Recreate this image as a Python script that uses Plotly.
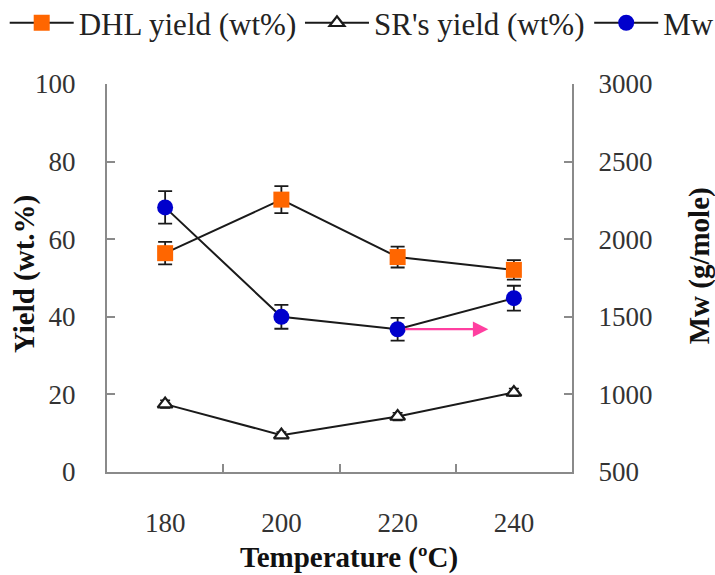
import plotly.graph_objects as go

temps = ["180", "200", "220", "240"]
dhl_yield = [56.4, 70.2, 55.4, 52.1]
dhl_err = [2.9, 3.5, 2.7, 2.5]
sr_yield = [17.5, 9.5, 14.3, 20.5]
sr_err = [1.0, 0.8, 1.0, 1.0]
mw = [2205, 1500, 1420, 1620]
mw_err = [105, 77, 73, 80]

FONT = "Liberation Serif"
LINE = "#1a1a1a"
AXC = "#8a8a8a"

fig = go.Figure()
fig.add_trace(go.Scatter(
    x=temps, y=dhl_yield, name="DHL yield (wt%)", mode="lines+markers",
    line=dict(color=LINE, width=2), legend="legend",
    marker=dict(symbol="square", size=16, color="#FF6600"),
    error_y=dict(type="data", array=dhl_err, color=LINE, thickness=1.8, width=7),
))
fig.add_trace(go.Scatter(
    x=temps, y=sr_yield, name="SR's yield (wt%)", mode="lines+markers",
    line=dict(color=LINE, width=2), legend="legend2",
    marker=dict(symbol="triangle-up", size=13, color="white", line=dict(color=LINE, width=2.2)),
    error_y=dict(type="data", array=sr_err, color=LINE, thickness=1.5, width=5),
))
fig.add_trace(go.Scatter(
    x=temps, y=mw, name="Mw", mode="lines+markers", yaxis="y2",
    line=dict(color=LINE, width=2), legend="legend3",
    marker=dict(symbol="circle", size=16, color="#0000CC"),
    error_y=dict(type="data", array=mw_err, color=LINE, thickness=1.8, width=7),
))

fig.add_annotation(
    x=2.78, y=mw[2], xref="x", yref="y2",
    ax=2.05, ay=mw[2], axref="x", ayref="y2",
    text="", showarrow=True, arrowhead=2, arrowsize=1.4, arrowwidth=2.2,
    arrowcolor="#FF3FA0",
)

titlefont = dict(family=FONT, size=29, color="#111")
fig.add_annotation(text="<b>Yield (wt.%)</b>", xref="paper", yref="paper",
                   x=-0.1785, y=0.51, xanchor="center", yanchor="middle",
                   textangle=-90, showarrow=False, font=titlefont)
fig.add_annotation(text="<b>Mw (g/mole)</b>", xref="paper", yref="paper",
                   x=1.276, y=0.531, xanchor="center", yanchor="middle",
                   textangle=-90, showarrow=False, font=titlefont)
fig.add_annotation(text="<b>Temperature (ºC)</b>", xref="paper", yref="paper",
                   x=0.52, y=-0.2216, xanchor="center", yanchor="middle",
                   showarrow=False, font=titlefont)

tickfont = dict(family=FONT, size=27, color="#333")
legfont = dict(family=FONT, size=31, color="#222")


def leg(xpos):
    return dict(orientation="h", xref="paper", yref="paper",
                x=xpos, y=1.157, xanchor="left", yanchor="middle",
                font=legfont, itemwidth=64, bgcolor="rgba(0,0,0,0)",
                borderwidth=0)


fig.update_layout(
    template="none",
    width=715, height=575,
    margin=dict(l=107, r=143, t=84, b=103, autoexpand=False),
    paper_bgcolor="white", plot_bgcolor="white",
    showlegend=True,
    legend=leg(-0.22),
    legend2=leg(0.415),
    legend3=leg(1.037),
    xaxis=dict(type="category", range=[-0.5, 3.5], tickson="boundaries",
               ticks="inside", ticklen=8, tickwidth=1.5, tickcolor=AXC,
               showline=True, linecolor=AXC, linewidth=2, showgrid=False,
               zeroline=False, tickfont=tickfont, ticklabelstandoff=26,
               automargin=False),
    yaxis=dict(range=[0, 100], dtick=20, ticks="inside", ticklen=8, tickwidth=1.5,
               tickcolor=AXC, showline=True, linecolor=AXC, linewidth=2,
               showgrid=False, zeroline=False, tickfont=tickfont, ticklabelstandoff=24,
               automargin=False),
    yaxis2=dict(range=[500, 3000], dtick=500, overlaying="y", side="right",
                ticks="inside", ticklen=8, tickwidth=1.5, tickcolor=AXC,
                showline=True, linecolor=AXC, linewidth=2, showgrid=False,
                zeroline=False, tickfont=tickfont, ticklabelstandoff=19,
                automargin=False),
)

fig.write_html(
    "out.html",
    config={"displayModeBar": False},
    post_script="document.body.style.margin='0';document.body.style.overflow='hidden';",
)
